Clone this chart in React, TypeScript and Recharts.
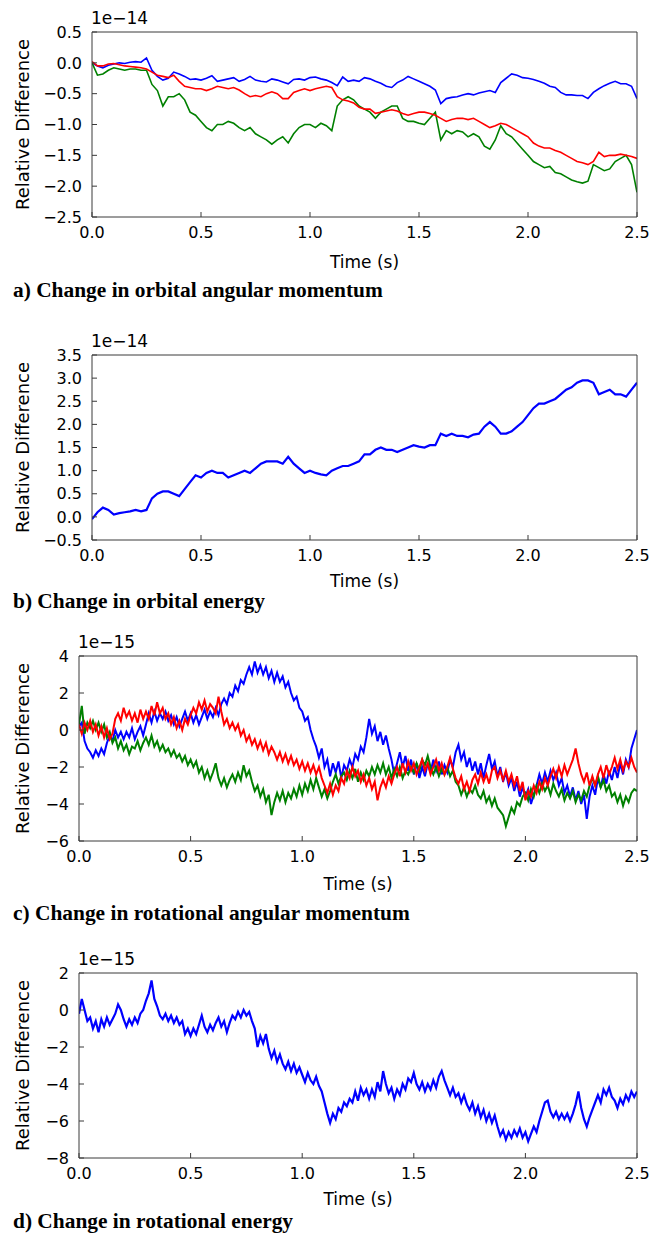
import React from "react";
import { LineChart, Line, XAxis, YAxis } from "recharts";

// time grids (s)
const STEP_COARSE = 0.025;
const STEP_FINE = 0.0125;
const TIME_TICKS = [0, 0.5, 1, 1.5, 2, 2.5];

// a) orbital angular momentum, units of 1e-14, every 0.025 s
const ORB_L_BLUE = [
  0, -0.05, -0.08, -0.04, -0.02, 0, -0.01, 0.01, 0.02, 0.01,
  0.08, -0.12, -0.22, -0.28, -0.25, -0.15, -0.18, -0.22, -0.27, -0.26,
  -0.28, -0.25, -0.21, -0.3, -0.28, -0.26, -0.24, -0.3, -0.27, -0.22,
  -0.28, -0.3, -0.31, -0.26, -0.28, -0.31, -0.34, -0.27, -0.26, -0.28,
  -0.24, -0.23, -0.26, -0.28, -0.32, -0.37, -0.23, -0.3, -0.28, -0.3,
  -0.24, -0.26, -0.3, -0.33, -0.38, -0.4, -0.32, -0.28, -0.22, -0.26,
  -0.3, -0.34, -0.38, -0.44, -0.66, -0.58, -0.56, -0.55, -0.52, -0.5,
  -0.52, -0.49, -0.47, -0.45, -0.48, -0.32, -0.25, -0.18, -0.2, -0.24,
  -0.25, -0.27, -0.3, -0.33, -0.38, -0.4, -0.48, -0.52, -0.52, -0.53,
  -0.53, -0.58, -0.48, -0.42, -0.37, -0.33, -0.3, -0.34, -0.34, -0.38,
  -0.58,
];
const ORB_L_GREEN = [
  0, -0.2, -0.18, -0.12, -0.08, -0.1, -0.12, -0.1, -0.1, -0.12,
  -0.12, -0.35, -0.45, -0.7, -0.55, -0.55, -0.5, -0.6, -0.8, -0.85,
  -0.95, -1.05, -1.1, -1.0, -1.0, -0.95, -0.98, -1.05, -1.1, -1.05,
  -1.15, -1.2, -1.25, -1.32, -1.25, -1.2, -1.3, -1.15, -1.05, -1.0,
  -1.0, -1.05, -0.98, -1.02, -1.1, -0.7, -0.6, -0.55, -0.6, -0.7,
  -0.75, -0.8, -0.9, -0.8, -0.75, -0.7, -0.7, -0.9, -0.95, -0.95,
  -0.98, -1.0, -0.9, -0.8, -1.25, -1.1, -1.15, -1.1, -1.12, -1.2,
  -1.15, -1.2, -1.35, -1.4, -1.25, -1.02, -1.15, -1.2, -1.3, -1.4,
  -1.5, -1.6, -1.65, -1.7, -1.68, -1.78, -1.8, -1.85, -1.9, -1.93,
  -1.95, -1.92, -1.65, -1.7, -1.75, -1.72, -1.6, -1.55, -1.5, -1.65,
  -2.1,
];
const ORB_L_RED = [
  0.02, -0.05, -0.05, -0.02, -0.01, -0.03, -0.05, -0.06, -0.07, -0.08,
  -0.1, -0.15, -0.2, -0.22, -0.24, -0.2, -0.3, -0.38, -0.4, -0.42,
  -0.42, -0.45, -0.42, -0.38, -0.4, -0.42, -0.4, -0.44, -0.5, -0.55,
  -0.53, -0.55, -0.5, -0.47, -0.5, -0.58, -0.58, -0.48, -0.45, -0.42,
  -0.45, -0.42, -0.4, -0.38, -0.4, -0.55, -0.6, -0.62, -0.65, -0.72,
  -0.75, -0.75, -0.82, -0.8, -0.78, -0.76, -0.78, -0.82, -0.85, -0.82,
  -0.8, -0.8, -0.82, -0.85, -0.9, -0.95, -0.92, -0.9, -0.9, -0.92,
  -0.9, -0.95, -1.0, -1.05, -1.02, -0.98, -1.0, -1.05, -1.1, -1.15,
  -1.2, -1.3, -1.35, -1.38, -1.38, -1.42, -1.45, -1.5, -1.55, -1.6,
  -1.62, -1.65, -1.6, -1.45, -1.52, -1.5, -1.5, -1.48, -1.5, -1.52,
  -1.55,
];

// b) orbital energy, units of 1e-14, every 0.025 s
const ORB_E = [
  -0.05, 0.1, 0.2, 0.15, 0.05, 0.08, 0.1, 0.12, 0.15, 0.12,
  0.15, 0.4, 0.5, 0.55, 0.55, 0.5, 0.45, 0.6, 0.75, 0.9,
  0.85, 0.95, 1.0, 0.95, 0.95, 0.85, 0.9, 0.95, 1.0, 0.95,
  1.05, 1.15, 1.2, 1.2, 1.2, 1.15, 1.3, 1.15, 1.05, 0.95,
  1.0, 0.95, 0.92, 0.9, 1.0, 1.05, 1.1, 1.1, 1.15, 1.2,
  1.35, 1.35, 1.45, 1.5, 1.45, 1.45, 1.4, 1.45, 1.5, 1.55,
  1.52, 1.5, 1.55, 1.55, 1.8, 1.75, 1.8, 1.75, 1.75, 1.72,
  1.78, 1.8, 1.95, 2.05, 1.95, 1.8, 1.8, 1.85, 1.95, 2.05,
  2.2, 2.35, 2.45, 2.45, 2.5, 2.55, 2.65, 2.75, 2.8, 2.9,
  2.95, 2.95, 2.9, 2.65, 2.7, 2.75, 2.65, 2.65, 2.6, 2.75,
  2.9,
];

// c) rotational angular momentum, units of 1e-15, every 0.0125 s
const ROT_L_BLUE = [
  0.2, 0.4, -0.6, -1.0, -1.2, -1.5, -1.1, -1.4,
  -1.0, -1.3, -0.7, -0.3, -0.6, 0.0, -0.4, -0.1,
  -0.5, -0.1, -0.4, 0.1, -0.5, -0.1, 0.2, -0.3,
  0.3, 0.9, 0.4, 1.0, 0.5, 0.9, 0.6, 1.0,
  0.5, 0.8, 0.3, 0.7, 0.2, 0.6, 1.0, 0.5,
  0.9, 0.4, 0.8, 0.3, 0.7, 1.1, 0.6, 1.0,
  0.7, 1.2, 0.8, 1.4, 1.7, 1.4, 2.0, 1.8,
  2.4, 2.1, 2.7, 2.5, 3.0, 3.4, 3.0, 3.7,
  3.1, 3.5, 3.0, 3.4, 2.8, 3.2, 2.6, 3.1,
  2.6, 2.9, 2.3, 2.6, 2.0, 1.6, 1.8, 1.2,
  1.0, 0.5, 0.7, 0.0, -0.5, -0.9, -1.5, -1.0,
  -2.0, -1.6, -2.5, -1.8, -2.3, -1.7, -2.6, -1.9,
  -2.2, -1.6, -2.0, -1.3, -1.6, -0.9, -1.2, -0.4,
  0.6, -0.2, 0.2, -0.6, -0.1, -0.8, -0.3, -1.0,
  -1.6, -2.4, -1.8, -1.2, -2.0, -1.4, -2.2, -1.6,
  -2.4, -1.8, -2.6, -2.0, -2.5, -1.8, -2.3, -1.6,
  -2.2, -1.7, -2.4, -1.9, -2.3, -1.6, -2.0, -1.2,
  -0.8, -1.6, -1.2, -2.0, -1.5, -2.2, -1.7, -2.4,
  -1.8, -2.6, -1.9, -1.3, -2.1, -1.7, -2.5, -2.0,
  -2.8, -2.3, -3.0, -2.6, -3.3, -2.8, -3.6, -3.1,
  -3.6, -3.2, -4.0, -3.5, -3.0, -2.4, -2.9, -2.3,
  -2.8, -2.2, -2.7, -2.3, -3.0, -2.6, -3.4, -3.0,
  -3.6, -3.1, -3.8, -3.3, -4.0, -3.5, -4.8, -3.6,
  -3.0, -3.5, -2.6, -3.1, -2.4, -2.9, -2.2, -2.7,
  -2.0, -2.6, -1.8, -2.4, -1.6, -2.0, -1.0, -0.5,
  0.0,
];
const ROT_L_GREEN = [
  0.3, 1.3, -0.2, 0.4, 0.1, 0.5, 0.0, 0.4,
  -0.1, 0.3, -0.4, -0.1, -0.7, -0.4, -1.0, -0.6,
  -1.1, -0.8, -1.3, -0.9, -1.0, -0.6, -1.1, -0.7,
  -0.4, -0.8, -0.3, -0.9, -0.6, -1.1, -0.8, -1.2,
  -1.0, -1.4, -1.1, -1.5, -1.3, -1.7, -1.4, -1.9,
  -1.6, -2.0, -1.7, -2.3, -2.0, -2.6, -2.2, -2.7,
  -2.3, -1.8, -2.6, -3.0, -2.6, -3.1, -2.7, -2.4,
  -2.8, -2.3, -2.7, -1.9, -2.5, -2.2, -2.8, -3.3,
  -3.0, -3.6, -3.2, -3.9, -3.5, -4.6, -3.9, -3.4,
  -3.8, -3.3, -3.9, -3.4, -3.7, -3.2, -3.6, -3.0,
  -3.5, -2.9, -3.3, -2.7, -3.2, -2.6, -3.1, -3.6,
  -3.2, -3.7, -3.3, -2.8, -2.4, -2.9, -2.5, -2.3,
  -2.7, -2.2, -2.6, -2.1, -2.8, -2.3, -2.7, -2.2,
  -2.5, -2.0, -2.4, -1.9, -2.3, -1.8, -2.4, -2.0,
  -2.6, -2.1, -2.5, -2.0, -2.6, -2.2, -2.4, -2.0,
  -2.3, -1.8, -2.2, -1.6, -1.9, -1.4, -2.0, -2.4,
  -2.0, -2.5, -2.1, -2.4, -2.0, -2.5, -2.2, -2.8,
  -3.0, -3.5, -3.1, -3.6, -3.2, -3.4, -3.0, -3.5,
  -3.7, -3.3, -3.9, -3.6, -4.1, -3.7, -4.2, -4.4,
  -4.6, -5.2, -4.7, -4.2, -4.5, -3.9, -4.1, -3.6,
  -3.4, -3.8, -3.2, -3.6, -3.0, -3.4, -2.9, -3.3,
  -3.0, -3.5, -2.9, -3.3, -3.6, -3.2, -3.8, -3.4,
  -3.7, -3.3, -3.9, -3.5, -3.8, -3.3, -3.6, -3.0,
  -2.6, -3.0, -2.5, -3.1, -2.7, -3.3, -3.0, -3.6,
  -3.4, -3.9, -3.5, -4.1, -3.6, -3.9, -3.4, -3.2,
  -3.3,
];
const ROT_L_RED = [
  0.3, -0.2, 0.4, 0.0, 0.5, -0.1, 0.3, -0.3,
  0.2, -0.4, 0.1, -0.5, -0.2, 0.6, 0.9, 0.5,
  1.2, 0.7, 1.0, 0.5, 0.9, 0.4, 1.1, 0.6,
  1.0, 0.6, 1.3, 0.8, 1.5, 0.9, 1.2, 0.6,
  0.9, 0.3, 0.7, 0.1, 0.5, 0.0, 0.6, 0.3,
  0.8, 1.2, 0.9, 1.5, 1.1, 1.6, 1.0, 1.4,
  1.2, 0.9, 1.8, 1.0, 0.3, 0.6, 0.1, 0.4,
  0.0, 0.3, -0.3, 0.0, -0.6, -0.3, -0.8, -0.5,
  -1.0, -0.6, -1.1, -0.7, -1.3, -0.9, -1.2, -1.6,
  -1.2, -1.7, -1.3, -1.8, -1.4, -1.9, -1.6, -2.1,
  -1.7, -2.2, -1.8, -2.3, -1.9, -2.4, -2.0, -2.6,
  -3.0, -3.4, -2.9, -3.5, -3.0, -3.3, -2.6, -2.9,
  -2.2, -2.6, -2.0, -2.5, -2.2, -2.8, -2.4, -3.0,
  -2.6, -3.2, -2.8, -3.8, -3.1, -2.7, -3.1, -2.5,
  -2.9, -2.4, -2.0, -2.5, -1.8, -2.3, -1.7, -2.2,
  -1.8, -2.4, -2.0, -1.6, -2.2, -1.8, -2.4, -2.0,
  -1.6, -2.2, -1.8, -2.4, -2.0, -1.5, -2.1, -2.6,
  -2.9, -2.5, -3.2, -2.8, -3.3, -2.7, -2.4, -2.9,
  -2.3, -2.8, -2.4, -2.9, -2.2, -2.0, -2.6, -2.2,
  -2.7, -2.2, -2.8, -2.4, -3.0, -2.5, -3.3, -2.8,
  -3.8, -3.3, -3.6, -3.0, -3.4, -2.8, -3.2, -2.6,
  -3.0, -2.5, -2.1, -2.6, -2.0, -2.5, -1.9, -2.4,
  -2.0, -1.6, -1.0, -1.8, -2.4, -2.8, -2.3, -3.0,
  -2.5, -3.0, -2.4, -2.0, -2.6, -1.9, -2.4, -2.0,
  -1.5, -2.1, -1.6, -2.2, -1.7, -2.0, -1.5, -2.0,
  -2.3,
];

// d) rotational energy, units of 1e-15, every 0.0125 s
const ROT_E = [
  -0.2, 0.6, 0.0, -0.6, -0.4, -1.0, -0.6, -1.2,
  -0.5, -0.9, -0.4, -0.8, -0.5, -0.2, 0.3, 0.0,
  -0.5, -0.9, -0.5, -0.8, -0.4, -0.7, -0.2, 0.0,
  0.5, 0.9, 1.6, 0.6, 0.2, -0.3, -0.5, -0.2,
  -0.6, -0.3, -0.7, -0.4, -0.8, -0.6, -1.3, -1.0,
  -1.4, -1.0, -1.3, -0.8, -0.3, -0.9, -1.2, -0.8,
  -1.1, -0.7, -0.4, -0.9, -0.6, -1.2, -0.7, -0.3,
  -0.5, -0.1, -0.4, 0.0, -0.3, -0.1, -0.6, -1.0,
  -2.0, -1.4, -1.8, -1.3, -2.1, -2.6, -2.2, -2.8,
  -2.4, -2.9, -3.2, -2.8, -3.3, -2.9, -3.4, -3.1,
  -3.5, -3.9, -3.4, -3.8, -4.0, -3.6, -4.1, -4.4,
  -5.0, -5.6, -6.1, -5.6, -5.9, -5.3, -5.5, -5.0,
  -5.2, -4.8, -5.0, -4.4, -4.9, -4.2, -4.6, -4.3,
  -4.8, -4.3, -4.7, -3.9, -4.4, -3.3, -4.0, -4.5,
  -4.2, -4.8, -4.3, -4.6, -4.0, -4.3, -3.7, -3.9,
  -3.4, -4.0, -4.3, -3.9, -4.4, -4.0, -4.3, -3.8,
  -4.2, -3.6, -3.3, -3.8, -4.2, -4.6, -4.2, -4.7,
  -4.5, -5.0, -4.6, -5.1, -5.4, -5.0, -5.6, -5.2,
  -5.8, -5.4, -6.0, -5.6, -6.1, -5.7, -6.3, -6.8,
  -6.5, -7.0, -6.6, -6.9, -6.5, -6.8, -6.4, -6.9,
  -6.6, -7.1, -6.7, -6.3, -6.6, -6.0, -5.5, -5.0,
  -4.9, -5.5, -5.8, -5.5, -5.9, -5.6, -5.9, -5.6,
  -6.0, -5.6, -5.1, -4.4, -5.3, -5.9, -6.3, -5.8,
  -5.4, -5.0, -4.6, -5.0, -4.3, -4.6, -4.2, -4.7,
  -4.9, -5.3, -4.8, -5.1, -4.6, -4.9, -4.4, -4.7,
  -4.4,
];

const TICKS_A = [-2.5, -2, -1.5, -1, -0.5, 0, 0.5];
const TICKS_B = [-0.5, 0, 0.5, 1, 1.5, 2, 2.5, 3, 3.5];
const TICKS_C = [-6, -4, -2, 0, 2, 4];
const TICKS_D = [-8, -6, -4, -2, 0, 2];

const BLUE = "#0000ff";
const GREEN = "#008000";
const RED = "#ff0000";
const FRAME = "#3a3a3a";
const SANS = "DejaVu Sans, sans-serif";
const SERIF = "Liberation Serif, Times New Roman, serif";

const PLOT_RIGHT = 637;
const PLOT_H = 185;
const M_TOP = 20;
const XAX_H = 40;

function buildRows(step: number, series: Record<string, number[]>) {
  const keys = Object.keys(series);
  const n = series[keys[0]].length;
  return Array.from({ length: n }, (_, i) => {
    const row: Record<string, number> = { t: +(i * step).toFixed(4) };
    keys.forEach((k) => (row[k] = series[k][i]));
    return row;
  });
}

const minus = (s: string) => s.replace("-", "\u2212");
const fmt1 = (v: number) => minus(v.toFixed(1));
const fmt0 = (v: number) => minus(String(v));

type LineDef = { key: string; color: string };

function Panel({
  plotTop, plotLeft, data, lines, domain, ticks, fmt, width = 1.5,
}: {
  plotTop: number; plotLeft: number; data: Record<string, number>[]; lines: LineDef[];
  domain: [number, number]; ticks: number[]; fmt: (v: number) => string; width?: number;
}) {
  const tickStyle = { fill: "#000", fontSize: 16, fontFamily: SANS };
  return (
    <div style={{ position: "absolute", left: 0, top: plotTop - M_TOP - 1 }}>
      <LineChart
        width={654}
        height={M_TOP + 1 + PLOT_H + XAX_H}
        data={data}
        margin={{ top: M_TOP, right: 654 - PLOT_RIGHT - 1, bottom: 0, left: 0 }}
      >
        <XAxis
          xAxisId="bottom" dataKey="t" type="number" domain={[0, 2.5]} ticks={TIME_TICKS}
          allowDataOverflow interval={0} height={XAX_H} tickFormatter={fmt1}
          tickSize={-5} tickMargin={15} stroke={FRAME} tick={tickStyle}
        />
        <XAxis
          xAxisId="top" orientation="top" dataKey="t" type="number" domain={[0, 2.5]}
          ticks={TIME_TICKS} allowDataOverflow interval={0} height={1} tick={false}
          tickSize={-5} stroke={FRAME}
        />
        <YAxis
          yAxisId="left" type="number" domain={domain} ticks={ticks} allowDataOverflow
          interval={0} width={plotLeft} tickFormatter={fmt} tickSize={-5} tickMargin={15}
          stroke={FRAME} tick={tickStyle}
        />
        <YAxis
          yAxisId="right" orientation="right" type="number" domain={domain} ticks={ticks}
          allowDataOverflow interval={0} width={1} tick={false} tickSize={-5} stroke={FRAME}
        />
        {lines.map((l) => (
          <Line
            key={l.key} xAxisId="bottom" yAxisId="left" type="linear" dataKey={l.key}
            stroke={l.color} strokeWidth={width} dot={false} isAnimationActive={false}
          />
        ))}
      </LineChart>
    </div>
  );
}

const PANELS = [
  { id: "a", plotTop: 32, plotLeft: 92, offset: "1e\u221214", time: 267.5, caption: 297,
    text: "a) Change in orbital angular momentum" },
  { id: "b", plotTop: 355, plotLeft: 92, offset: "1e\u221214", time: 586.5, caption: 608,
    text: "b) Change in orbital energy" },
  { id: "c", plotTop: 656, plotLeft: 79, offset: "1e\u221215", time: 889.5, caption: 920,
    text: "c) Change in rotational angular momentum" },
  { id: "d", plotTop: 973, plotLeft: 79, offset: "1e\u221215", time: 1204.5, caption: 1227.5,
    text: "d) Change in rotational energy" },
];

export default function App() {
  const dataA = buildRows(STEP_COARSE, { blue: ORB_L_BLUE, green: ORB_L_GREEN, red: ORB_L_RED });
  const dataB = buildRows(STEP_COARSE, { blue: ORB_E });
  const dataC = buildRows(STEP_FINE, { blue: ROT_L_BLUE, green: ROT_L_GREEN, red: ROT_L_RED });
  const dataD = buildRows(STEP_FINE, { blue: ROT_E });
  const three: LineDef[] = [
    { key: "blue", color: BLUE },
    { key: "green", color: GREEN },
    { key: "red", color: RED },
  ];
  const one: LineDef[] = [{ key: "blue", color: BLUE }];

  return (
    <div style={{ position: "absolute", left: 0, top: 0, width: 654, height: 1235, background: "#fff" }}>
      <Panel plotTop={32} plotLeft={92} data={dataA} lines={three} domain={[-2.5, 0.5]} ticks={TICKS_A} fmt={fmt1} width={1.6} />
      <Panel plotTop={355} plotLeft={92} data={dataB} lines={one} domain={[-0.5, 3.5]} ticks={TICKS_B} fmt={fmt1} width={2.2} />
      <Panel plotTop={656} plotLeft={79} data={dataC} lines={three} domain={[-6, 4]} ticks={TICKS_C} fmt={fmt0} width={2} />
      <Panel plotTop={973} plotLeft={79} data={dataD} lines={one} domain={[-8, 2]} ticks={TICKS_D} fmt={fmt0} width={2.2} />
      <svg width={654} height={1235} style={{ position: "absolute", left: 0, top: 0, pointerEvents: "none" }}>
        {PANELS.map((p) => {
          const midX = (p.plotLeft + PLOT_RIGHT) / 2;
          const midY = p.plotTop + PLOT_H / 2;
          return (
            <g key={p.id}>
              <text x={p.plotLeft - 1} y={p.plotTop - 8} fontFamily={SANS} fontSize={17} fill="#000">
                {p.offset}
              </text>
              <text
                x={29} y={midY} transform={`rotate(-90 29 ${midY})`} textAnchor="middle"
                fontFamily={SANS} fontSize={18} fill="#000"
              >
                Relative Difference
              </text>
              <text x={midX} y={p.time} textAnchor="middle" fontFamily={SANS} fontSize={17} fill="#000">
                Time (s)
              </text>
              <text x={13} y={p.caption} fontFamily={SERIF} fontWeight="bold" fontSize={21.4} fill="#000">
                {p.text}
              </text>
            </g>
          );
        })}
      </svg>
    </div>
  );
}
